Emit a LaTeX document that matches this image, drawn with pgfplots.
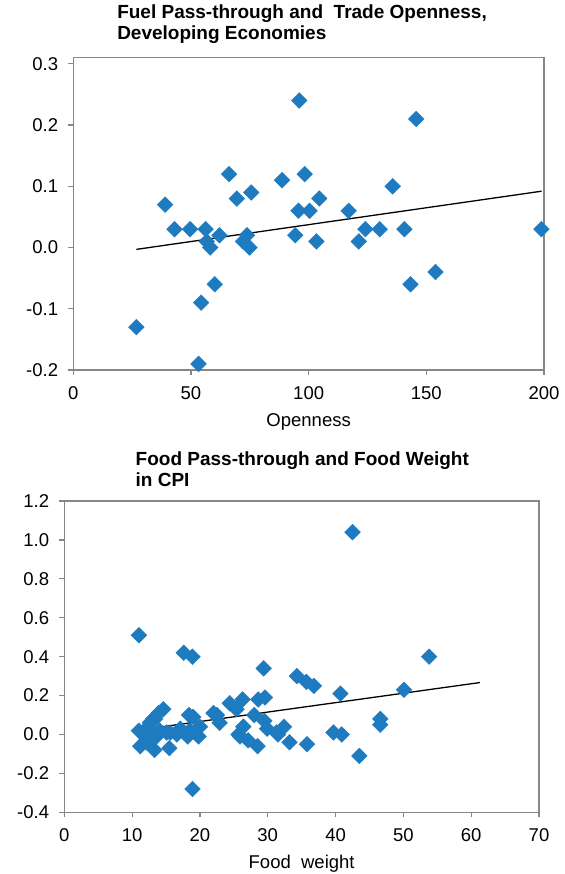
\documentclass[border=0pt]{standalone}
\usepackage{pgfplots}
\pgfplotsset{compat=1.18}
\usepackage{fontspec}
\setmainfont{Liberation Sans}
\definecolor{mk}{HTML}{1F7BBF}
\definecolor{ax}{HTML}{878787}
\pgfplotsset{
  myax/.style={
    scale only axis,
    axis line style={ax, line width=1.2bp},
    every tick/.style={ax, line width=1.2bp},
    tick align=outside,
    major tick length=5bp,
    xtick pos=bottom, ytick pos=left,
    /pgf/number format/assume math mode=true,
    tick label style={font=\fontsize{18.5bp}{21bp}\selectfont},
    label style={font=\fontsize{18.5bp}{21bp}\selectfont},
    yticklabel style={anchor=east, inner sep=0pt, xshift=-10bp},
    xticklabel style={anchor=base, inner sep=0pt, yshift=-24bp},
    xlabel style={at={(axis description cs:0.5,0)}, anchor=base, inner sep=0pt, yshift=-56bp},
    title style={anchor=south west, align=left, inner sep=0pt,
      font=\fontsize{19bp}{20.7bp}\selectfont\bfseries},
  },
  mymark/.style={color=mk, only marks, mark=square*, mark size=5.6bp,
     mark options={rotate=45, fill=mk, draw=mk, line width=0.3bp}},
}
\begin{document}
\begin{tikzpicture}
\useasboundingbox (0,0) rectangle (565bp,-874bp);
\begin{axis}[myax,
  at={(73.3bp,-370bp)}, anchor=south west,
  width=470.7bp, height=312.3bp,
  xmin=0, xmax=200, ymin=-0.2, ymax=0.31,
  xtick={0,50,...,200},
  ytick={-0.2,-0.1,0,0.1,0.2,0.3},
  yticklabel style={/pgf/number format/.cd, fixed, fixed zerofill, precision=1},
  xlabel={Openness},
  title={Fuel Pass-through and\ \ Trade Openness,\\Developing Economies},
  title style={at={(axis description cs:0.093,1)}, yshift=8bp},
]
\addplot[mymark] coordinates {
(26.8,-0.13) (39.0,0.07) (43.0,0.03) (49.6,0.03) (56.2,0.03) (56.7,0.01)
(58.2,0.00) (62.1,0.02) (54.3,-0.09) (53.2,-0.19) (60.1,-0.06) (66.2,0.12)
(69.5,0.08) (75.6,0.09) (72.1,0.01) (73.8,0.02) (74.9,0.00) (88.7,0.11)
(96.0,0.24) (98.3,0.12) (95.7,0.06) (100.4,0.06) (94.3,0.02) (104.5,0.08)
(103.3,0.01) (117.0,0.06) (121.3,0.01) (124.1,0.03) (130.2,0.03) (135.7,0.10)
(140.7,0.03) (143.3,-0.06) (145.7,0.21) (153.9,-0.04) (198.9,0.03)
};
\addplot[black, line width=1.3bp, no marks] coordinates {(26.8,-0.003) (199,0.092)};
\end{axis}
\begin{axis}[myax,
  at={(64.3bp,-812.3bp)}, anchor=south west,
  width=474.7bp, height=311.3bp,
  xmin=0, xmax=70, ymin=-0.4, ymax=1.2,
  xtick={0,10,...,70},
  ytick={-0.4,-0.2,0,0.2,0.4,0.6,0.8,1.0,1.2},
  yticklabel style={/pgf/number format/.cd, fixed, fixed zerofill, precision=1},
  xlabel={Food\ \ weight},
  title={Food Pass-through and Food Weight\\in CPI},
  title style={at={(axis description cs:0.150,1)}, yshift=8bp},
]
\addplot[mymark] coordinates {
(11.0,0.51) (17.6,0.42) (18.9,0.40) (42.5,1.04) (53.8,0.40) (29.4,0.34)
(34.3,0.30) (35.7,0.27) (36.8,0.25) (40.7,0.21) (50.1,0.23) (26.3,0.18)
(28.6,0.18) (29.6,0.19) (24.4,0.16) (25.4,0.13) (22.0,0.11) (22.9,0.06)
(22.5,0.10) (28.0,0.10) (29.5,0.07) (29.9,0.03) (25.7,0.00) (26.4,0.04)
(27.1,-0.03) (28.5,-0.06) (31.5,0.00) (32.4,0.04) (33.2,-0.04) (35.8,-0.05)
(39.7,0.01) (40.9,0.00) (43.5,-0.11) (46.6,0.08) (46.6,0.05) (18.4,0.10)
(19.0,0.09) (18.2,-0.01) (19.8,-0.01) (20.0,0.04) (18.9,-0.28) (14.6,0.13)
(13.9,0.11) (13.1,0.08) (12.6,0.06) (11.0,0.02) (11.9,-0.01) (11.2,-0.06)
(13.3,-0.08) (15.5,-0.07) (14.1,0.02) (15.1,0.01) (16.6,0.00) (17.1,0.03)
(12.1,0.03) (13.6,-0.01) (18.5,0.02) (25.9,-0.01) (31.3,0.01) (13.4,0.00)
(15.6,0.01) (12.1,-0.04) (13.4,0.08)
};
\addplot[black, line width=1.3bp, no marks] coordinates {(10.8,0.022) (61.3,0.267)};
\end{axis}
\end{tikzpicture}
\end{document}
